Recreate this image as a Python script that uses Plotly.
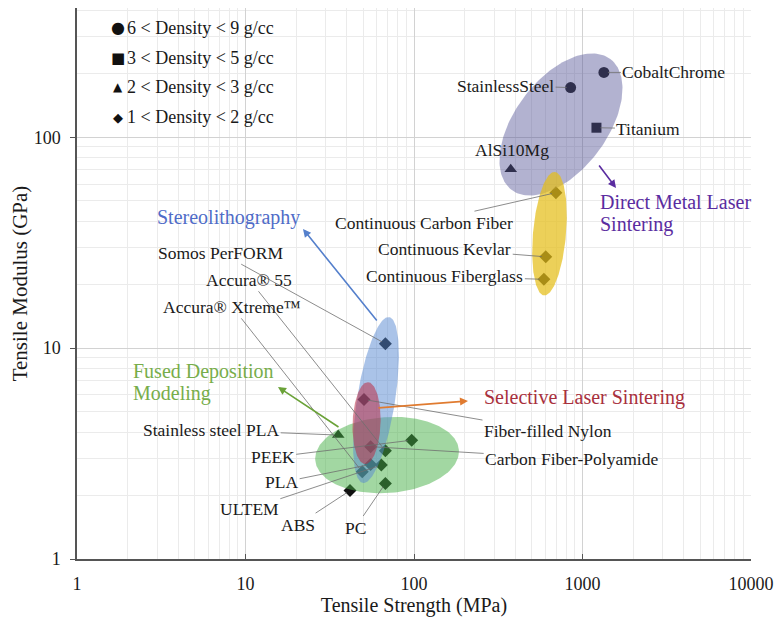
import numpy as np
import plotly.graph_objects as go

# ---------------- data ----------------
legend_labels = ["6 < Density < 9 g/cc", "3 < Density < 5 g/cc",
                 "2 < Density < 3 g/cc", "1 < Density < 2 g/cc"]

circle_names = ["StainlessSteel", "CobaltChrome"]
circle_strength = [850, 1340]
circle_modulus = [172, 203]

square_names = ["Titanium"]
square_strength = [1210]
square_modulus = [111]

triangle_names = ["AlSi10Mg", "Stainless steel PLA"]
triangle_strength = [375, 35.5]
triangle_modulus = [70.5, 3.87]

diamond_names = ["Continuous Carbon Fiber", "Continuous Kevlar", "Continuous Fiberglass",
                 "Somos PerFORM", "Accura® 55", "Accura® Xtreme™",
                 "Fiber-filled Nylon", "Carbon Fiber-Polyamide",
                 "PEEK", "PLA", "ULTEM", "ABS", "PC"]
diamond_strength = [695, 605, 590, 67.6, 67.6, 49.3, 50.5, 55.3, 96.9, 55.3, 64, 41.7, 67.6]
diamond_modulus = [54.6, 27.1, 21.2, 10.5, 3.26, 2.59, 5.71, 3.41, 3.66, 2.81, 2.79, 2.11, 2.28]

x_tickvals = [1, 10, 100, 1000, 10000]
x_ticktext = ["1", "10", "100", "1000", "10000"]
y_tickvals = [1, 10, 100]
y_ticktext = ["1", "10", "100"]

# process-region ellipses: name, centre strength, centre modulus
region_names = ["Direct Metal Laser Sintering", "Continuous fibers", "Fused Deposition Modeling",
                "Stereolithography", "Selective Laser Sintering"]
region_cx = [745, 637, 69.2, 59.5, 52.3]
region_cy = [115, 34.9, 3.11, 5.67, 4.41]

# ---------------- layout geometry / style ----------------
W, H = 775, 617
L, R, T, B = 77, 751, 8, 559
XR = [0.0, 4.0]
YR = [0.0, 2.613]
PXX = (R - L) / (XR[1] - XR[0])
PXY = (B - T) / (YR[1] - YR[0])
FONT = "Liberation Serif"
TXT = "#1a1a1a"

def px_of(x, y):
    return L + (np.log10(x) - XR[0]) * PXX, B - (np.log10(y) - YR[0]) * PXY

def paper(px, py):
    return (px - L) / (R - L), (B - py) / (B - T)

fig = go.Figure()

marker_groups = [
    (circle_names, circle_strength, circle_modulus, "circle", 11),
    (square_names, square_strength, square_modulus, "square", 10),
    (triangle_names, triangle_strength, triangle_modulus, "triangle-up", 11),
    (diamond_names, diamond_strength, diamond_modulus, "diamond", 10),
]
for (nm, xs, ys, sym, sz), lab in zip(marker_groups, legend_labels):
    fig.add_trace(go.Scatter(x=xs, y=ys, mode="markers", name=lab, text=nm,
                             marker=dict(symbol=sym, size=sz, color="#111111", line=dict(width=0)),
                             showlegend=False))

# ellipse styles: semi-major px, semi-minor px, angle deg, colour
ell_style = [
    (82, 46, 53, "rgba(85,85,150,0.45)"),
    (62, 16.5, 85, "rgba(228,190,25,0.72)"),
    (72, 38, 4, "rgba(70,175,70,0.5)"),
    (84, 19, 81, "rgba(85,135,210,0.5)"),
    (41, 14, 88, "rgba(185,45,70,0.55)"),
]
t = np.linspace(0, 2 * np.pi, 181)
for nm, cx, cy, (a, b, ang, col) in zip(region_names, region_cx, region_cy, ell_style):
    cpx, cpy = px_of(cx, cy)
    th = np.radians(ang)
    ex = cpx + a * np.cos(t) * np.cos(th) - b * np.sin(t) * np.sin(th)
    ey = cpy - (a * np.cos(t) * np.sin(th) + b * np.sin(t) * np.cos(th))
    xs = 10 ** ((ex - L) / PXX + XR[0])
    ys = 10 ** ((B - ey) / PXY + YR[0])
    fig.add_trace(go.Scatter(x=xs, y=ys, mode="lines", fill="toself", fillcolor=col,
                             line=dict(width=0), hoverinfo="skip", showlegend=False, name=nm))

# label offsets (pixels from point to label centre)
label_off = {
    "StainlessSteel": (-65, -2), "CobaltChrome": (70, 0), "Titanium": (52, 1),
    "Continuous Carbon Fiber": (-132, 30), "Continuous Kevlar": (-101, -8),
    "Continuous Fiberglass": (-99, -3), "Somos PerFORM": (-165, -91),
    "Accura® 55": (-136, -171), "Accura® Xtreme™": (-130, -165),
    "Fiber-filled Nylon": (184, 32), "Carbon Fiber-Polyamide": (201, 12),
    "Stainless steel PLA": (-127, -5), "PEEK": (-139, 17), "PLA": (-89, 18),
    "ULTEM": (-132, 44), "ABS": (-52, 34), "PC": (-30, 44),
}
LBL = 17.5
annotations = []
for nm, xs, ys, _, _ in marker_groups:
    for n, xv, yv in zip(nm, xs, ys):
        if n in label_off:
            ax, ay = label_off[n]
            annotations.append(dict(x=np.log10(xv), y=np.log10(yv), xref="x", yref="y", text=n,
                                    showarrow=True, arrowhead=0, arrowwidth=0.8, arrowcolor="#6e6e6e",
                                    ax=ax, ay=ay, standoff=4, font=dict(family=FONT, size=LBL, color=TXT)))
        else:
            annotations.append(dict(x=np.log10(xv), y=np.log10(yv), xref="x", yref="y", text=n,
                                    showarrow=False, yshift=19, xshift=1,
                                    font=dict(family=FONT, size=LBL, color=TXT)))

# legend (top-left)
legend_syms = ["●", "■", "▲", "◆"]
legend_sym_size = [16, 15, 12, 13]
for i, (s, lab) in enumerate(zip(legend_syms, legend_labels)):
    py = 28 + i * 29.7
    xp, yp = paper(118, py)
    annotations.append(dict(x=xp, y=yp, xref="paper", yref="paper", text=s, showarrow=False,
                            xanchor="center", yanchor="middle",
                            font=dict(family="DejaVu Sans", size=legend_sym_size[i], color="#111111")))
    xp, yp = paper(125, py)
    annotations.append(dict(x=xp, y=yp, xref="paper", yref="paper", text=lab, showarrow=False,
                            xanchor="left", yanchor="middle", font=dict(family=FONT, size=18, color=TXT)))

# process labels (one annotation per line)
proc = [
    ("Direct Metal Laser", 598, 202, "#5a2ca0"),
    ("Sintering", 598, 224, "#5a2ca0"),
    ("Selective Laser Sintering", 482, 398, "#a8303d"),
    ("Stereolithography", 155, 217, "#4f6cc8"),
    ("Fused Deposition", 131, 371, "#77ad4a"),
    ("Modeling", 131, 393, "#77ad4a"),
]
for txt, px, py, col in proc:
    xp, yp = paper(px, py)
    annotations.append(dict(x=xp, y=yp, xref="paper", yref="paper", text=txt, showarrow=False,
                            xanchor="left", yanchor="middle", font=dict(family=FONT, size=20, color=col)))

# process arrows: head (px), tail (px)
parrows = [
    ((616, 188), (598, 164), "#5a2ca0"),
    ((468, 401), (377, 408), "#e07b30"),
    ((303, 229), (378, 322), "#5580cc"),
    ((278, 387), (340, 428), "#6aa238"),
]
for (hx, hy), (tx, ty), col in parrows:
    xp, yp = paper(hx, hy)
    annotations.append(dict(x=xp, y=yp, xref="paper", yref="paper", text="", showarrow=True,
                            arrowhead=2, arrowsize=1, arrowwidth=1.6, arrowcolor=col,
                            ax=tx - hx, ay=ty - hy))

axis_common = dict(type="log", showgrid=True, gridcolor="#d2d2d2", gridwidth=1,
                   showline=True, linecolor="#555555", linewidth=1.5, zeroline=False,
                   automargin=False,
                   tickfont=dict(family=FONT, size=18, color=TXT),
                   tickcolor="#555555", ticklen=5,
                   minor=dict(dtick="D1", showgrid=True, gridcolor="#ebebeb", gridwidth=1, ticks=""))

fig.update_layout(
    width=W, height=H,
    margin=dict(l=L, r=W - R, t=T, b=H - B, pad=0, autoexpand=False),
    paper_bgcolor="white", plot_bgcolor="white",
    xaxis=dict(axis_common, range=XR, tickvals=x_tickvals, ticktext=x_ticktext, ticks="inside",
               ticklabelstandoff=8,
               title=dict(text="Tensile Strength (MPa)", font=dict(family=FONT, size=20, color=TXT),
                          standoff=2)),
    yaxis=dict(axis_common, range=YR, tickvals=y_tickvals, ticktext=y_ticktext, ticks="outside",
               ticklabelstandoff=6,
               title=dict(text="Tensile Modulus (GPa)", font=dict(family=FONT, size=21, color=TXT),
                          standoff=0)),
    annotations=annotations,
    showlegend=False,
)

fig.write_html("out.html", config={"displayModeBar": False},
               post_script="document.body.style.margin='0px';document.body.style.overflow='hidden';")
